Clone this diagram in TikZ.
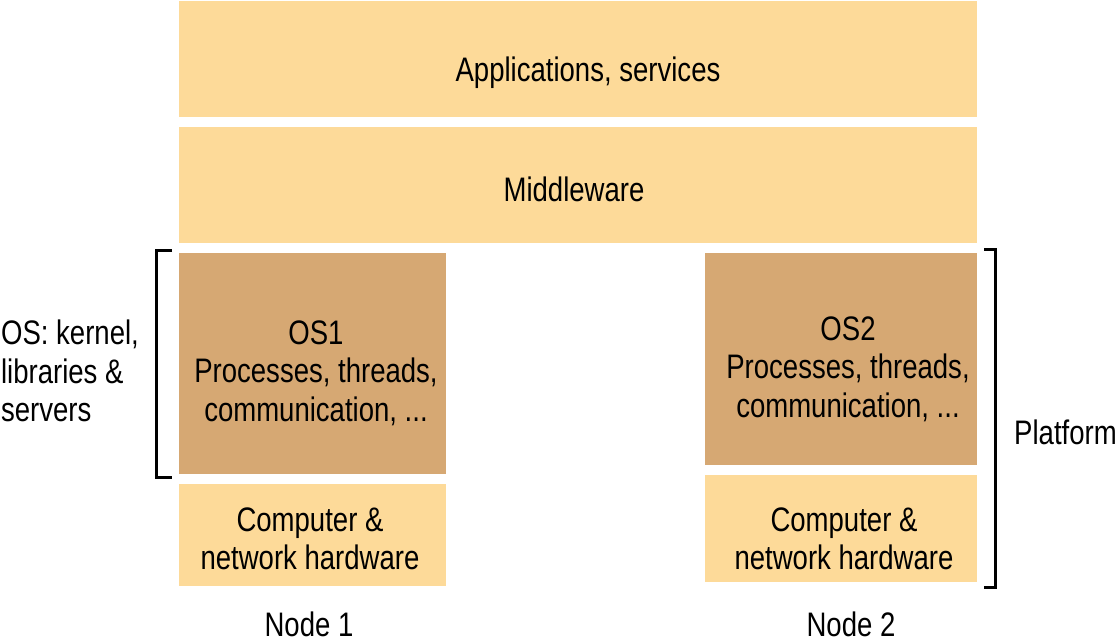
\documentclass[tikz,border=0pt]{standalone}
\usepackage{fontspec}
\setmainfont{Liberation Sans}[FakeStretch=0.81]
\definecolor{lightbox}{RGB}{253,218,153}
\definecolor{darkbox}{RGB}{214,168,115}
\begin{document}
\begin{tikzpicture}[x=1pt,y=-1pt,
  lbox/.style={fill=lightbox,draw=none,inner sep=0pt},
  dbox/.style={fill=darkbox,draw=none,inner sep=0pt},
  txt/.style={font=\fontsize{34}{38.5}\selectfont,align=center,inner sep=0pt},
  brk/.style={line width=3pt,draw=black}]
\useasboundingbox (0,0) rectangle (1119,641);
% boxes
\node[lbox,minimum width=798pt,minimum height=116pt] (apps) at (578,59) {};
\node[lbox,minimum width=798pt,minimum height=116pt] (mid) at (578,185) {};
\node[dbox,minimum width=267pt,minimum height=221pt] (os1) at (312.5,363.5) {};
\node[lbox,minimum width=267pt,minimum height=102pt] (hw1) at (312.5,535) {};
\node[dbox,minimum width=272pt,minimum height=212pt] (os2) at (841,359) {};
\node[lbox,minimum width=272pt,minimum height=107pt] (hw2) at (841,528.5) {};
% texts
\node[txt] (tapps) at (588,73) {Applications, services};
\node[txt] (tmid) at (574,189) {Middleware};
\node[txt] (tos1) at (316,373) {OS1\\Processes, threads,\\communication, ...};
\node[txt] (tos2) at (848,369) {OS2\\Processes, threads,\\communication, ...};
\node[txt] (thw1) at (310,539) {Computer \&\\network hardware};
\node[txt] (thw2) at (844,539) {Computer \&\\network hardware};
\node[txt,anchor=base] (n1) at (309,636) {Node 1};
\node[txt,anchor=base] (n2) at (851,636) {Node 2};
\node[txt,align=left] (oslab) at (70,371) {OS: kernel,\\libraries \&\\servers};
\node[txt,anchor=base west] (plat) at (1014,444) {Platform};
% brackets
\coordinate (lbt) at (172,250);
\coordinate (lbb) at (172,477);
\coordinate (rbt) at (984,249);
\coordinate (rbb) at (984,587);
\draw[brk] (lbt) -- ++(-16,0) |- (lbb);
\draw[brk] (rbt) -- ++(11,0) |- (rbb);
\end{tikzpicture}
\end{document}
